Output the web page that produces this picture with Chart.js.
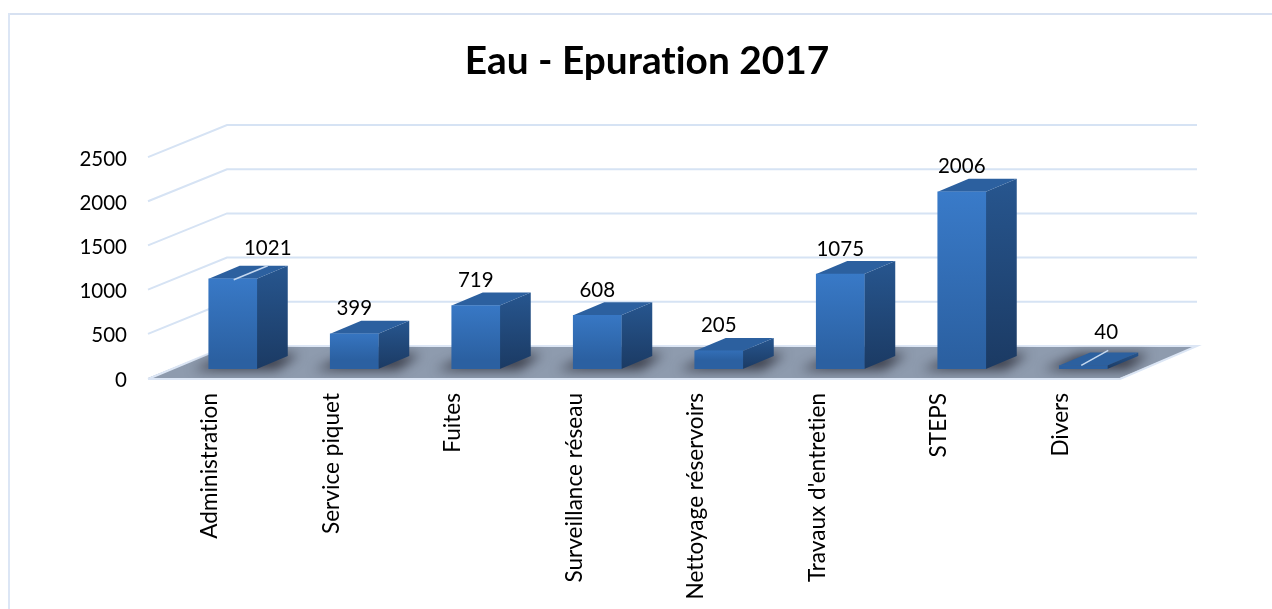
<!DOCTYPE html>
<html><head><meta charset="utf-8">
<style>html,body{margin:0;padding:0;background:#fff}#w{width:1272px;height:609px;position:relative}canvas{display:block}</style>
<script src="https://cdn.jsdelivr.net/npm/chart.js@4/dist/chart.umd.min.js"></script>
</head><body><div id="w"><canvas id="c" width="1272" height="609"></canvas></div>
<script>
const titleText = "Eau - Epuration 2017";
const categories = ["Administration","Service piquet","Fuites","Surveillance réseau","Nettoyage réservoirs","Travaux d'entretien","STEPS","Divers"];
const values = [1021,399,719,608,205,1075,2006,40];
const yTicks = [0,500,1000,1500,2000,2500];

const FONT = "Lato, 'Open Sans', sans-serif";
const WALL = {dx:79, dy:-32};      // oblique offset floor front -> back wall
const BAR_SHIFT = {dx:24, dy:-9};  // bar front plane relative to the floor's front edge
const BAR_DEPTH = {dx:31, dy:-13};
const GRID = '#D6E3F4';
const leaderLabels = {0:{dx:35,dy:-30,from:[1,1],to:[35,-13]}, 7:{dx:23,dy:-33,from:[-2,0],to:[25,-15]}};

const poly = (ctx, pts, fill) => {ctx.beginPath();pts.forEach((p,i)=>i?ctx.lineTo(p[0],p[1]):ctx.moveTo(p[0],p[1]));ctx.closePath();if(fill){ctx.fillStyle=fill;ctx.fill();}};

const scene = {
  id:'scene',
  afterLayout(chart){
    const t = chart.titleBlock; t.left = 22; t.right = 1272;
  },
  beforeDraw(chart){
    const ctx = chart.ctx;
    ctx.textRendering = 'optimizeSpeed';
    ctx.save();
    ctx.fillStyle='#fff';ctx.fillRect(0,0,1272,609);
    ctx.fillStyle='#D7E1F1';ctx.fillRect(8,13,1264,2);
    ctx.fillStyle='#DCE6F5';ctx.fillRect(8,13,2,596);
    ctx.restore();
  },
  beforeDatasetsDraw(chart){
    const ctx = chart.ctx, x = chart.scales.x, y = chart.scales.y;
    const L = x.left, R = x.right;
    const y0 = y.getPixelForValue(0);
    ctx.save();
    // walls: side and back grid lines
    ctx.strokeStyle = GRID; ctx.lineWidth = 2;
    yTicks.forEach(v=>{
      if(v===0) return;
      const p = y.getPixelForValue(v);
      ctx.beginPath();ctx.moveTo(L,p);ctx.lineTo(L+WALL.dx,p+WALL.dy);ctx.lineTo(R+WALL.dx-2,p+WALL.dy);ctx.stroke();
    });
    // floor
    const floor = [[L,y0],[L+WALL.dx,y0+WALL.dy],[R+WALL.dx-2,y0+WALL.dy],[R,y0]];
    poly(ctx,floor,'#8E9BAE');
    ctx.strokeStyle='#DCE6F5';ctx.lineWidth=2;
    ctx.beginPath();ctx.moveTo(L,y0+1);ctx.lineTo(R,y0+1);ctx.lineTo(R+WALL.dx-2,y0+WALL.dy);ctx.lineTo(L+WALL.dx,y0+WALL.dy);ctx.lineTo(L,y0+1);ctx.stroke();
    poly(ctx,floor);ctx.clip();
    // shadows
    const meta = chart.getDatasetMeta(0);
    ctx.filter='blur(6px)';
    meta.data.forEach(b=>{
      const l = b.x - b.width/2 + BAR_SHIFT.dx, by = y0 + BAR_SHIFT.dy;
      poly(ctx,[[l-16,by+1],[l+68,by+1],[l+90,by-15],[l+20,by-15]],'rgba(40,42,52,.82)');
    });
    ctx.filter='none';
    ctx.restore();
    // side and top faces of each bar
    meta.data.forEach(b=>{
      const l = b.x - b.width/2 + BAR_SHIFT.dx, r = l + b.width;
      const t = b.y + BAR_SHIFT.dy, bt = y0 + BAR_SHIFT.dy;
      const d = BAR_DEPTH;
      const g = ctx.createLinearGradient(0,t+d.dy,0,bt);
      g.addColorStop(0,'#27568F');g.addColorStop(1,'#1B3A63');
      poly(ctx,[[r,t],[r+d.dx,t+d.dy],[r+d.dx,bt+d.dy],[r,bt]],g);
      poly(ctx,[[l,t],[r,t],[r+d.dx,t+d.dy],[l+d.dx,t+d.dy]],'#2C609F');
    });
  },
  beforeDatasetDraw(chart){chart.ctx.save();chart.ctx.translate(BAR_SHIFT.dx,BAR_SHIFT.dy);},
  afterDatasetDraw(chart){chart.ctx.restore();},
  afterDatasetsDraw(chart){
    const ctx = chart.ctx, meta = chart.getDatasetMeta(0);
    ctx.save();
    ctx.font = '20.5px '+FONT; ctx.fillStyle='#000'; ctx.textAlign='center'; ctx.textBaseline='middle';
    meta.data.forEach((b,i)=>{
      const fx = b.x + BAR_SHIFT.dx, fy = b.y + BAR_SHIFT.dy;
      const lead = leaderLabels[i];
      if(lead){
        ctx.strokeStyle='#C6D9F0';ctx.lineWidth=1.5;
        ctx.beginPath();ctx.moveTo(fx+lead.from[0],fy+lead.from[1]);ctx.lineTo(fx+lead.to[0],fy+lead.to[1]);ctx.stroke();
        ctx.fillText(String(values[i]),fx+lead.dx,fy+lead.dy);
      } else {
        ctx.fillText(String(values[i]),fx,fy-25);
      }
    });
    ctx.restore();
  }
};

new Chart(document.getElementById('c'),{
  type:'bar',
  data:{labels:categories,datasets:[{
    data:values,
    barThickness:48,
    borderWidth:0,
    backgroundColor(c){
      const ch=c.chart, s=ch.scales.y;
      if(!s || c.parsed==null || c.parsed.y==null) return '#3570B8';
      const top=s.getPixelForValue(c.parsed.y), bot=s.getPixelForValue(0);
      if(!isFinite(top)||!isFinite(bot)) return '#3570B8';
      const g=ch.ctx.createLinearGradient(0,top-9,0,bot-9);
      g.addColorStop(0,'#3A7CCB');g.addColorStop(1,'#2B60A1');
      return g;
    }
  }]},
  plugins:[scene],
  options:{
    responsive:false,animation:false,
    layout:{padding:{left:0,right:152,top:0,bottom:0}},
    plugins:{
      legend:{display:false},tooltip:{enabled:false},
      title:{display:true,text:titleText,color:'#000',font:{family:FONT,size:38.8,weight:'bold'},padding:{top:38.5,bottom:72}}
    },
    scales:{
      x:{
        afterFit(s){s.height=231;},
        grid:{display:false,drawTicks:false},border:{display:false},
        ticks:{minRotation:90,maxRotation:90,autoSkip:false,color:'#000',font:{family:FONT,size:22.6},padding:15,labelOffset:1}
      },
      y:{
        min:0,max:2500,
        afterFit(s){s.width=148;},
        afterBuildTicks(s){s.ticks=yTicks.map(v=>({value:v}));},
        grid:{display:false,drawTicks:false},border:{display:false},
        ticks:{color:'#000',font:{family:FONT,size:20.5},padding:21,labelOffset:2,callback:v=>String(v)}
      }
    }
  }
});
</script></body></html>
